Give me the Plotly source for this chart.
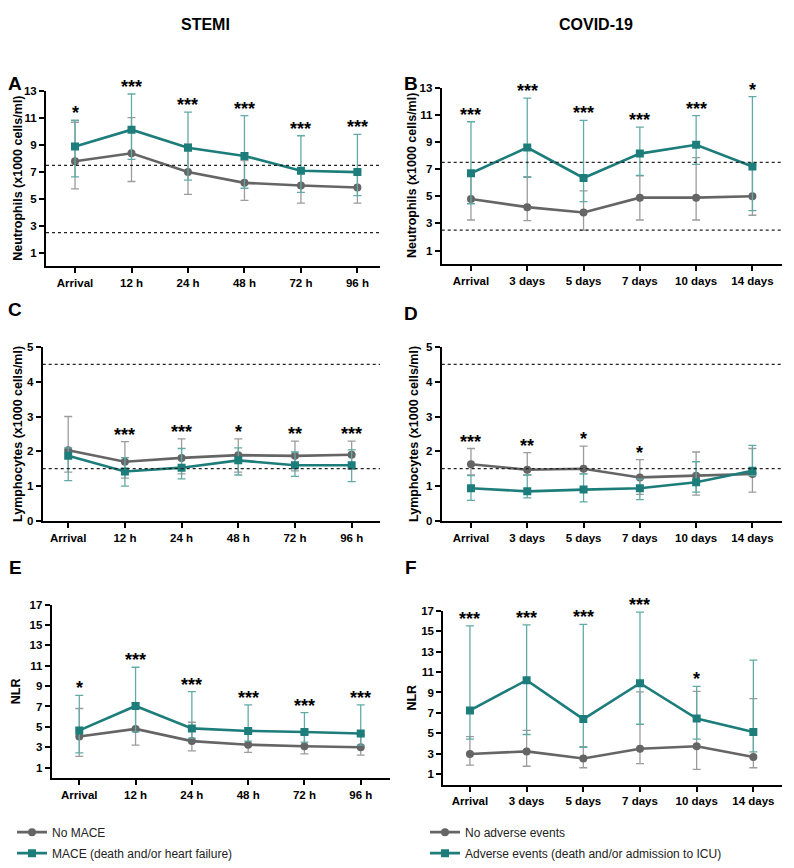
import plotly.graph_objects as go

# the page puts the figure 8px in from the top-left corner, so the figure is
# made 8px smaller and every pixel position below is measured from the window
OFF = 8
W, H = 794 - OFF, 868 - OFF

stemi_labels = ['Arrival', '12 h', '24 h', '48 h', '72 h', '96 h']
covid_labels = ['Arrival', '3 days', '5 days', '7 days', '10 days', '14 days']

# A - neutrophils, STEMI (median, upper and lower bar ends)
neu_stemi_no = [7.8, 8.4, 7.0, 6.2, 6.0, 5.85]
neu_stemi_no_hi = [10.7, 11.05, 9.1, 7.85, 7.2, 7.1]
neu_stemi_no_lo = [5.75, 6.3, 5.35, 4.9, 4.7, 4.7]
neu_stemi_yes = [8.9, 10.15, 8.8, 8.2, 7.1, 7.0]
neu_stemi_yes_hi = [10.85, 12.8, 11.45, 11.2, 9.7, 9.8]
neu_stemi_yes_lo = [6.65, 7.95, 6.4, 5.8, 5.5, 5.25]
neu_stemi_stars = ['*', '***', '***', '***', '***', '***']

# B - neutrophils, COVID-19
neu_covid_no = [4.8, 4.2, 3.8, 4.9, 4.9, 5.0]
neu_covid_no_hi = [6.6, 6.45, 5.4, 6.5, 7.85, 7.3]
neu_covid_no_lo = [3.25, 3.2, 2.5, 3.25, 3.25, 3.6]
neu_covid_yes = [6.7, 8.6, 6.35, 8.15, 8.8, 7.2]
neu_covid_yes_hi = [10.5, 12.25, 10.6, 10.1, 10.95, 12.35]
neu_covid_yes_lo = [4.45, 6.4, 4.6, 6.55, 7.35, 3.95]
neu_covid_stars = ['***', '***', '***', '***', '***', '*']

# C - lymphocytes, STEMI
lym_stemi_no = [2.03, 1.70, 1.81, 1.89, 1.87, 1.90]
lym_stemi_no_hi = [3.0, 2.28, 2.36, 2.36, 2.29, 2.29]
lym_stemi_no_lo = [1.4, 1.23, 1.35, 1.40, 1.44, 1.48]
lym_stemi_yes = [1.87, 1.42, 1.53, 1.74, 1.60, 1.60]
lym_stemi_yes_hi = [2.1, 1.82, 2.08, 2.10, 1.98, 2.04]
lym_stemi_yes_lo = [1.16, 1.0, 1.21, 1.32, 1.28, 1.13]
lym_stemi_stars = ['', '***', '***', '*', '**', '***']

# D - lymphocytes, COVID-19
lym_covid_no = [1.63, 1.47, 1.50, 1.25, 1.30, 1.35]
lym_covid_no_hi = [2.08, 1.96, 2.15, 1.76, 1.98, 2.08]
lym_covid_no_lo = [1.32, 1.32, 1.35, 0.76, 0.74, 0.83]
lym_covid_yes = [0.94, 0.85, 0.90, 0.94, 1.11, 1.44]
lym_covid_yes_hi = [1.30, 1.32, 1.35, 1.20, 1.70, 2.17]
lym_covid_yes_lo = [0.59, 0.66, 0.55, 0.61, 0.83, 1.30]
lym_covid_stars = ['***', '**', '*', '*', '', '']

# E - NLR, STEMI
nlr_stemi_no = [4.05, 4.8, 3.6, 3.25, 3.1, 3.0]
nlr_stemi_no_hi = [6.8, 7.35, 5.45, 4.4, 4.3, 4.2]
nlr_stemi_no_lo = [2.1, 3.2, 2.65, 2.5, 2.35, 2.22]
nlr_stemi_yes = [4.65, 7.05, 4.85, 4.6, 4.5, 4.35]
nlr_stemi_yes_hi = [8.1, 10.85, 8.45, 7.15, 6.4, 7.15]
nlr_stemi_yes_lo = [2.45, 4.5, 3.9, 3.6, 3.5, 3.2]
nlr_stemi_stars = ['*', '***', '***', '***', '***', '***']

# F - NLR, COVID-19
nlr_covid_no = [3.0, 3.25, 2.55, 3.5, 3.75, 2.7]
nlr_covid_no_hi = [4.7, 5.3, 3.7, 9.05, 9.1, 8.4]
nlr_covid_no_lo = [1.9, 1.8, 1.65, 2.05, 1.5, 1.65]
nlr_covid_yes = [7.25, 10.2, 6.4, 9.9, 6.45, 5.15]
nlr_covid_yes_hi = [15.5, 15.6, 15.65, 16.85, 9.6, 12.15]
nlr_covid_yes_lo = [4.45, 4.9, 3.65, 5.9, 4.45, 3.2]
nlr_covid_stars = ['***', '***', '***', '***', '*', '']

stemi_names = ['No MACE', 'MACE (death and/or heart failure)']
covid_names = ['No adverse events', 'Adverse events (death and/or admission to ICU)']

GRAY = '#656565'
TEAL = '#1c7d7a'
GRAY_ERR = '#9c9c9c'
TEAL_ERR = '#62aaa7'
FONT = 'Arial, Liberation Sans, sans-serif'


def fx(p):
    return (p - OFF) / W


def fy(p):
    return 1 - (p - OFF) / H


fig = go.Figure()


def add_panel(n, labels, no, no_hi, no_lo, yes, yes_hi, yes_lo, stars, refs,
              xpx, ypx, yrange, xrange, tickvals, title, title_x, names, legend):
    xa = 'x' if n == 1 else 'x%d' % n
    ya = 'y' if n == 1 else 'y%d' % n
    xs = list(range(len(labels)))
    series = [(no, no_hi, no_lo, GRAY, GRAY_ERR, 'circle', names[0]),
              (yes, yes_hi, yes_lo, TEAL, TEAL_ERR, 'square', names[1])]
    for med, hi, lo, col, ecol, sym, name in series:
        fig.add_trace(go.Scatter(
            x=xs, y=med, xaxis=xa, yaxis=ya, mode='lines+markers',
            name=name, legend=legend or 'legend', showlegend=legend is not None,
            legendgroup=name,
            line=dict(color=col, width=2.6),
            marker=dict(symbol=sym, size=8, color=col),
            error_y=dict(type='data', symmetric=False,
                         array=[h - m for h, m in zip(hi, med)],
                         arrayminus=[m - l for m, l in zip(med, lo)],
                         color=ecol, thickness=1.3, width=4),
        ))
    for i, s in enumerate(stars):
        if s:
            fig.add_annotation(x=i, y=max(no_hi[i], yes_hi[i]), xref=xa, yref=ya,
                               text=s, showarrow=False, yanchor='bottom', yshift=-5,
                               font=dict(family=FONT, size=18, color='black', weight='bold'))
    for r in refs:
        fig.add_shape(type='line', xref=xa + ' domain', yref=ya, x0=0, x1=1, y0=r, y1=r,
                      line=dict(color='#222222', width=1.3, dash='dot'))
    # y axis title
    fig.add_annotation(x=fx(title_x), y=fy((ypx[0] + ypx[1]) / 2), xref='paper', yref='paper',
                       text=title, textangle=-90, showarrow=False,
                       xanchor='center', yanchor='middle',
                       font=dict(family=FONT, size=12.5, color='black', weight='bold'))
    axis_common = dict(showline=True, linecolor='black', linewidth=2, ticks='outside',
                       ticklen=5, tickwidth=2, tickcolor='black', showgrid=False,
                       zeroline=False, tickfont=dict(family=FONT, size=11.5, color='black', weight='bold'))
    fig.update_layout(**{
        ('xaxis' if n == 1 else 'xaxis%d' % n): dict(
            domain=[fx(xpx[0]), fx(xpx[1])], anchor=ya, range=xrange,
            tickvals=xs, ticktext=labels, **axis_common),
        ('yaxis' if n == 1 else 'yaxis%d' % n): dict(
            domain=[fy(ypx[0]), fy(ypx[1])], anchor=xa, range=yrange,
            tickvals=tickvals, **axis_common),
    })


neu_ticks = [1, 3, 5, 7, 9, 11, 13]
lym_ticks = [0, 1, 2, 3, 4, 5]
nlr_ticks = [1, 3, 5, 7, 9, 11, 13, 15, 17]
neu_title = 'Neutrophils (x1000 cells/ml)'
lym_title = 'Lymphocytes (x1000 cells/ml)'

add_panel(1, stemi_labels, neu_stemi_no, neu_stemi_no_hi, neu_stemi_no_lo,
          neu_stemi_yes, neu_stemi_yes_hi, neu_stemi_yes_lo, neu_stemi_stars, [7.5, 2.5],
          (46, 380), (264.2, 86.5), [0, 13], [-0.514, 5.4], neu_ticks, neu_title, 18,
          stemi_names, 'legend')
add_panel(2, covid_labels, neu_covid_no, neu_covid_no_hi, neu_covid_no_lo,
          neu_covid_yes, neu_covid_yes_hi, neu_covid_yes_lo, neu_covid_stars, [7.5, 2.5],
          (441.7, 781.7), (261.9, 83), [0, 13], [-0.52, 5.52], neu_ticks, neu_title, 412,
          covid_names, 'legend2')
add_panel(3, stemi_labels, lym_stemi_no, lym_stemi_no_hi, lym_stemi_no_lo,
          lym_stemi_yes, lym_stemi_yes_hi, lym_stemi_yes_lo, lym_stemi_stars, [4.5, 1.5],
          (42.7, 380), (522.7, 346), [0, 5], [-0.45, 5.5], lym_ticks, lym_title, 18,
          stemi_names, None)
add_panel(4, covid_labels, lym_covid_no, lym_covid_no_hi, lym_covid_no_lo,
          lym_covid_yes, lym_covid_yes_hi, lym_covid_yes_lo, lym_covid_stars, [4.5, 1.5],
          (441.7, 781.7), (522.7, 346), [0, 5], [-0.52, 5.52], lym_ticks, lym_title, 414,
          covid_names, None)
add_panel(5, stemi_labels, nlr_stemi_no, nlr_stemi_no_hi, nlr_stemi_no_lo,
          nlr_stemi_yes, nlr_stemi_yes_hi, nlr_stemi_yes_lo, nlr_stemi_stars, [],
          (51.7, 390), (783.5, 607.7), [0, 17], [-0.49, 5.52], nlr_ticks, 'NLR', 16,
          stemi_names, None)
add_panel(6, covid_labels, nlr_covid_no, nlr_covid_no_hi, nlr_covid_no_lo,
          nlr_covid_yes, nlr_covid_yes_hi, nlr_covid_yes_lo, nlr_covid_stars, [],
          (443.3, 781.7), (790.5, 613.7), [0, 17], [-0.47, 5.5], nlr_ticks, 'NLR', 412,
          covid_names, None)

# column headers and panel letters
for text, x, y, size in [('STEMI', 205, 19, 16), ('COVID-19', 596, 19, 16),
                         ('A', 15, 79, 19), ('B', 411, 79, 19),
                         ('C', 15, 308, 19), ('D', 411, 312, 19),
                         ('E', 15, 570, 19), ('F', 411, 570, 19)]:
    fig.add_annotation(x=fx(x), y=fy(y), xref='paper', yref='paper', text=text,
                       showarrow=False, xanchor='center', yanchor='middle',
                       font=dict(family=FONT, size=size, color='black', weight='bold'))

legend_style = dict(font=dict(family=FONT, size=12, color='#222222'), bgcolor='rgba(0,0,0,0)',
                    yanchor='top', y=fy(824), itemwidth=30, tracegroupgap=2)
fig.update_layout(
    width=W, height=H, margin=dict(l=0, r=0, t=0, b=0),
    plot_bgcolor='white', paper_bgcolor='white',
    font=dict(family=FONT, color='black'),
    legend=dict(x=fx(12), **legend_style),
    legend2=dict(x=fx(425), **legend_style),
)

fig.write_html("out.html")
